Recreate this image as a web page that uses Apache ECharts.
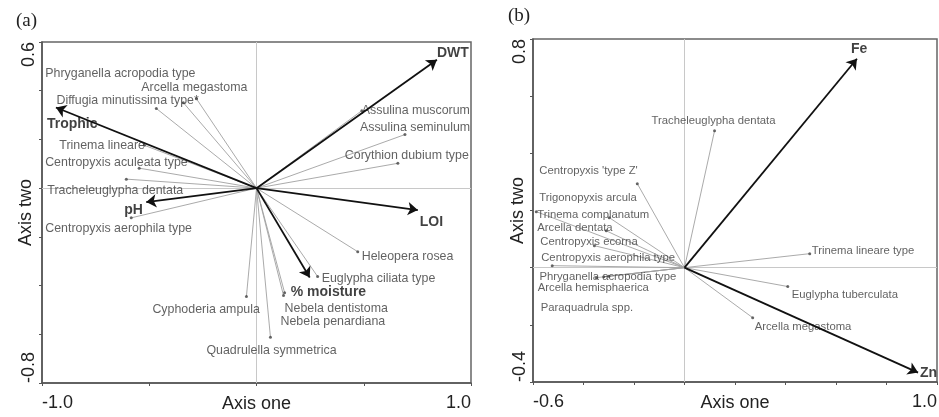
<!DOCTYPE html>
<html><head><meta charset="utf-8">
<script src="https://cdn.jsdelivr.net/npm/echarts@6/dist/echarts.min.js"></script>
<style>html,body{margin:0;padding:0;background:#fff}#c{width:939px;height:417px}</style>
</head><body><div id="c"></div>
<script>
// ---------- Panel (a) data ----------
const speciesA = ['Phryganella acropodia type','Arcella megastoma','Diffugia minutissima type*','Trinema lineare','Centropyxis aculeata type','Tracheleuglypha dentata','Centropyxis aerophila type','Cyphoderia ampula','Quadrulella symmetrica','Nebela dentistoma','Nebela penardiana','Euglypha ciliata type','Heleopera rosea','Assulina muscorum','Assulina seminulum','Corythion dubium type'];
const speciesAX = [-0.467,-0.341,-0.280,-0.523,-0.547,-0.607,-0.584,-0.047,0.065,0.131,0.126,0.285,0.472,0.491,0.692,0.659];
const speciesAY = [0.327,0.351,0.367,0.176,0.082,0.037,-0.122,-0.445,-0.612,-0.429,-0.441,-0.363,-0.261,0.318,0.220,0.102];
const envA = ['DWT','Trophic','pH','LOI','% moisture'];
const envAX = [0.841,-0.935,-0.514,0.752,0.248];
const envAY = [0.527,0.331,-0.057,-0.090,-0.367];
const xTickLabelsA = ['-1.0','1.0'];
const yTickLabelsA = ['-0.8','0.6'];

// ---------- Panel (b) data ----------
const speciesB = ['Tracheleuglypha dentata',"Centropyxis 'type Z'",'Trigonopyxis arcula','Trinema complanatum','Arcella dentata','Centropyxis ecorna','Centropyxis aerophila type','Phryganella acropodia type','Arcella hemisphaerica','Paraquadrula spp.','Trinema lineare type','Euglypha tuberculata','Arcella megastoma'];
const speciesBX = [0.119,-0.187,-0.587,-0.298,-0.310,-0.357,-0.524,-0.349,-0.320,-0.300,0.496,0.409,0.270];
const speciesBY = [0.479,0.294,0.196,0.175,0.129,0.077,0.007,-0.035,-0.032,-0.030,0.049,-0.066,-0.175];
const envB = ['Fe','Zn'];
const envBX = [0.683,0.925];
const envBY = [0.731,-0.367];
const xTickLabelsB = ['-0.6','1.0'];
const yTickLabelsB = ['-0.4','0.8'];

// ---------- label offsets (layout, px) ----------
const offA = [[-111,-35],[-42,-15],[-140,2],[-85,0],[-94,-6],[-79,11],[-86,11],[-94,13],[-64,13],[0,16],[-3,26],[4,2],[4,5],[0,0],[-45,-7],[-53,-8]];
const envOffA = [[0,-7],[-9,17],[-22,8],[2,12],[-19,15]];
const offB = [[-63,-10],[-98,-13],[3,-14],[-72,-3],[-69,-3],[-54,-4],[-11,-8],[-57,-1],[-66,11],[-68,32],[2,-3],[4,8],[2,9]];
const envOffB = [[-6,-10],[2,1]];

const FONT = "'Liberation Sans', Arial, sans-serif";

function tickFmt(labels){
  return function(v){
    for (const l of labels) if (Math.abs(parseFloat(l) - v) < 1e-9) return l;
    return '';
  };
}

function xAxisDef(gi, min, max, interval, labels){
  return {
    type:'value', gridIndex:gi, min:min, max:max, interval:interval,
    name:'Axis one', nameLocation:'middle', nameGap:12, nameMoveOverlap:false,
    nameTextStyle:{fontFamily:FONT, fontSize:18, color:'#222'},
    axisLine:{show:true, onZero:false, lineStyle:{color:'#555', width:1.5}},
    axisTick:{show:true, length:3, lineStyle:{color:'#555'}},
    axisLabel:{show:true, formatter:tickFmt(labels), fontFamily:FONT, fontSize:18, color:'#222', margin:11,
      alignMinLabel:'left', alignMaxLabel:'right'},
    splitLine:{show:false}
  };
}
function yAxisDef(gi, min, max, interval, labels, gap){
  return {
    type:'value', gridIndex:gi, min:min, max:max, interval:interval,
    name:'Axis two', nameLocation:'middle', nameGap:gap, nameRotate:90, nameMoveOverlap:false,
    nameTextStyle:{fontFamily:FONT, fontSize:18, color:'#222'},
    axisLine:{show:true, onZero:false, lineStyle:{color:'#555', width:1.5}},
    axisTick:{show:true, length:3, lineStyle:{color:'#555'}},
    axisLabel:{show:true, rotate:90, formatter:tickFmt(labels), fontFamily:FONT, fontSize:18, color:'#222', margin:4,
      alignMinLabel:'left', alignMaxLabel:'right'},
    splitLine:{show:false}
  };
}

function panelSeries(gi, names, xs, ys, offs, envNames, exs, eys, eoffs, fs){
  const s = [];
  s.push({
    type:'lines', coordinateSystem:'cartesian2d', xAxisIndex:gi, yAxisIndex:gi, z:2, silent:true,
    symbol:['none','none'],
    lineStyle:{color:'#a0a0a0', width:0.9, opacity:1},
    data: names.map((n,i)=>({coords:[[0,0],[xs[i],ys[i]]]}))
  });
  s.push({
    type:'scatter', xAxisIndex:gi, yAxisIndex:gi, z:3, silent:true,
    symbolSize:3, itemStyle:{color:'#444'},
    label:{show:true, position:'inside', align:'left', verticalAlign:'middle',
      formatter:'{b}', fontFamily:FONT, fontSize:fs, color:'#3a3a3a'},
    data: names.map((n,i)=>({name:n, value:[xs[i],ys[i]], label:{offset:offs[i]}})),
    markLine:{silent:true, symbol:['none','none'], label:{show:false}, z:1,
      lineStyle:{color:'#c8c8c8', width:1, type:'solid'},
      data:[{xAxis:0},{yAxis:0}]}
  });
  s.push({
    type:'lines', coordinateSystem:'cartesian2d', xAxisIndex:gi, yAxisIndex:gi, z:4, silent:true,
    symbol:['none','arrow'], symbolSize:10,
    lineStyle:{color:'#111', width:1.8, opacity:1},
    data: envNames.map((n,i)=>({coords:[[0,0],[exs[i],eys[i]]]}))
  });
  s.push({
    type:'scatter', xAxisIndex:gi, yAxisIndex:gi, z:5, silent:true,
    symbolSize:0,
    label:{show:true, position:'inside', align:'left', verticalAlign:'middle',
      formatter:'{b}', fontFamily:FONT, fontSize:14, fontWeight:'bold', color:'#111'},
    data: envNames.map((n,i)=>({name:n, value:[exs[i],eys[i]], label:{offset:eoffs[i]}}))
  });
  return s;
}

const chart = echarts.init(document.getElementById('c'), null, {renderer:'canvas'});
chart.setOption({
  animation:false,
  backgroundColor:'#fff',
  title:[
    {text:'(a)', left:11, top:7, textStyle:{fontFamily:"'Liberation Serif', serif", fontSize:19, fontWeight:'normal', color:'#222'}},
    {text:'(b)', left:503, top:2, textStyle:{fontFamily:"'Liberation Serif', serif", fontSize:19, fontWeight:'normal', color:'#222'}}
  ],
  grid:[
    {left:42, right:468, top:42, bottom:34, show:true, borderColor:'#666', borderWidth:1.5, backgroundColor:'transparent', outerBoundsMode:'none', containLabel:false},
    {left:533, right:2, top:39, bottom:35, show:true, borderColor:'#666', borderWidth:1.5, backgroundColor:'transparent', outerBoundsMode:'none', containLabel:false}
  ],
  xAxis:[ xAxisDef(0,-1,1,0.5,xTickLabelsA), xAxisDef(1,-0.6,1.0,0.2,xTickLabelsB) ],
  yAxis:[ yAxisDef(0,-0.8,0.6,0.2,yTickLabelsA,7), yAxisDef(1,-0.4,0.8,0.2,yTickLabelsB,6) ],
  series:[
    ...panelSeries(0, speciesA, speciesAX, speciesAY, offA, envA, envAX, envAY, envOffA, 12.4),
    ...panelSeries(1, speciesB, speciesBX, speciesBY, offB, envB, envBX, envBY, envOffB, 11.3)
  ]
});
</script></body></html>
